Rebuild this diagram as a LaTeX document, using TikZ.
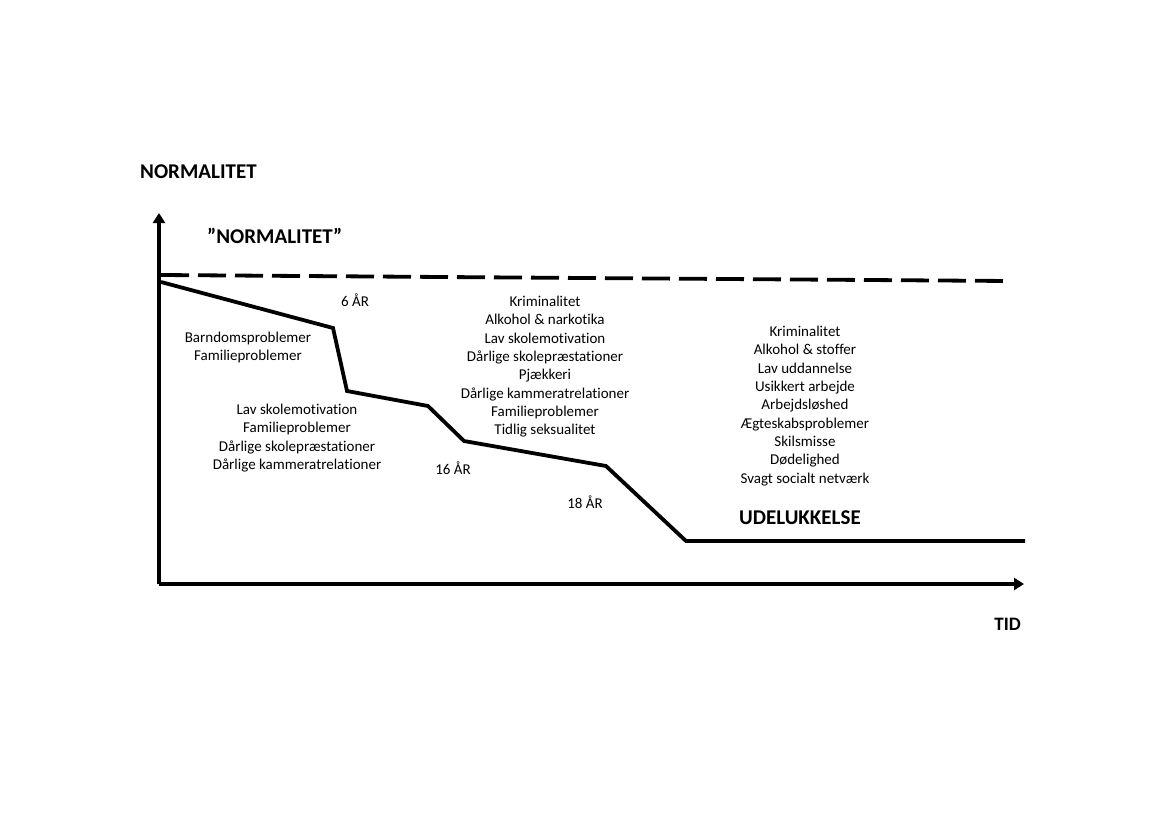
\documentclass[tikz,border=0pt]{standalone}
\usepackage{fontspec}
\setmainfont{Carlito}[Ligatures=NoCommon]
\usetikzlibrary{arrows.meta}
\begin{document}
\begin{tikzpicture}[x=1pt,y=-1pt,
  lbl/.style={inner sep=0pt,font=\fontsize{15}{18.3}\selectfont,align=center},
  ttl/.style={inner sep=0pt,font=\fontsize{21}{24}\selectfont\bfseries},
  axis/.style={line width=3.8pt,-{Triangle[length=10pt,width=12pt]}},
  curve/.style={line width=3.8pt,line join=miter},
  norm/.style={line width=3.8pt,dash pattern=on 28pt off 9pt}]
\useasboundingbox (0,0) rectangle (1169,827);
% axes
\coordinate (o) at (159,584);
\coordinate (ytop) at (159,213);
\coordinate (xend) at (1024,584);
\draw[axis] (o) -- (ytop);
\draw[axis] (o) -- (xend);
% normality dashed line
\coordinate (n0) at (161,275);
\coordinate (n1) at (1009,281);
\draw[norm] (n0) -- (n1);
% trajectory
\coordinate (p0) at (161,282);
\coordinate (p1) at (333,328);
\coordinate (p2) at (347,391);
\coordinate (p3) at (428,406);
\coordinate (p4) at (464,441);
\coordinate (p5) at (606,466);
\coordinate (p6) at (686,541);
\coordinate (p7) at (1025,541);
\draw[curve] (p0) -- (p1) -- (p2) -- (p3) -- (p4) -- (p5) -- (p6) -- (p7);
% titles
\node[ttl,anchor=west] (ytitle) at (140,171.5) {NORMALITET};
\node[ttl,anchor=west] (ntitle) at (207,236) {”NORMALITET”};
\node[ttl,anchor=west] (udel) at (739,518) {UDELUKKELSE};
\node[ttl,anchor=east,font=\fontsize{19}{24}\selectfont\bfseries] (tid) at (1021,624) {TID};
% ages
\node[lbl] (a6) at (355,300) {6 ÅR};
\node[lbl] (a16) at (453,468) {16 ÅR};
\node[lbl] (a18) at (585,502) {18 ÅR};
% problem lists
\node[lbl,anchor=north] (l1) at (248,332) {Barndomsproblemer\\Familieproblemer};
\node[lbl,anchor=north] (l2) at (297,404) {Lav skolemotivation\\Familieproblemer\\Dårlige skolepræstationer\\Dårlige kammeratrelationer};
\node[lbl,anchor=north] (l3) at (545,296) {Kriminalitet\\Alkohol \& narkotika\\Lav skolemotivation\\Dårlige skolepræstationer\\Pjækkeri\\Dårlige kammeratrelationer\\Familieproblemer\\Tidlig seksualitet};
\node[lbl,anchor=north] (l4) at (805,326) {Kriminalitet\\Alkohol \& stoffer\\Lav uddannelse\\Usikkert arbejde\\Arbejdsløshed\\Ægteskabsproblemer\\Skilsmisse\\Dødelighed\\Svagt socialt netværk};
\end{tikzpicture}
\end{document}
